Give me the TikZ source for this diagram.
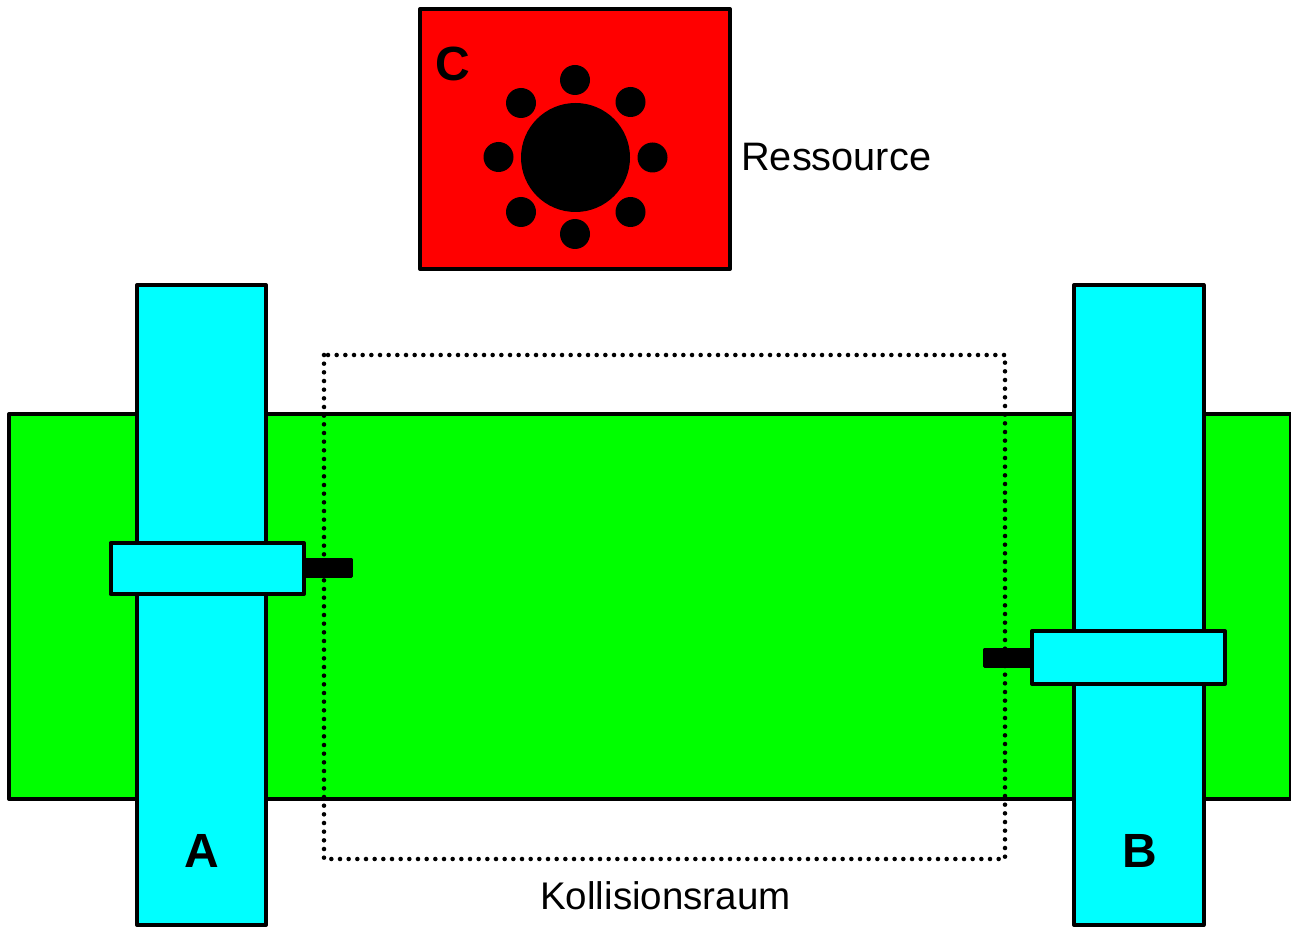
\documentclass[tikz,border=0pt]{standalone}
\usepackage{fontspec}
\setmainfont{Liberation Sans}
\definecolor{cgreen}{RGB}{0,255,0}
\definecolor{ccyan}{RGB}{0,255,255}
\definecolor{cred}{RGB}{255,0,0}
\tikzset{
  shapebox/.style={draw=black,line width=3pt,line join=round},
  stub/.style={fill=black,draw=black,line width=2.4pt,line join=round},
  dot/.style={fill=black},
  dotbox/.style={draw=black,line width=3.4pt,line cap=round,dash pattern=on 0pt off 6.5pt},
  lbl/.style={inner sep=0pt,font=\fontsize{28.9pt}{32pt}\selectfont},
  big/.style={inner sep=0pt,font=\fontsize{36pt}{40pt}\selectfont\bfseries}
}
\begin{document}
\begin{tikzpicture}[x=0.75pt,y=-0.75pt]
\useasboundingbox (0,0) rectangle (1291,927);
\clip (0,0) rectangle (1291,927);
% resource
\draw[shapebox,fill=cred] (420,9) rectangle (730,269);
\fill[dot] (575.5,157.5) circle (54.5);
\foreach \p/\q in {575/80,521/103,630.5/102,498.5/157,652.5/157.5,521/212,630.5/212,575/234}
  \fill[dot] (\p,\q) circle (15);
\node[big,anchor=base] (c) at (453,81) {C};
\node[lbl,font=\fontsize{29.8pt}{32pt}\selectfont,anchor=base west] (res) at (741,171) {Ressource};
% track
\draw[shapebox,fill=cgreen] (9,414) rectangle (1291,799);
% collision space
\draw[dotbox] (324,355) rectangle (1005,859);
% bars
\draw[shapebox,fill=ccyan] (137,285) rectangle (266,925);
\draw[shapebox,fill=ccyan] (1074,285) rectangle (1203.5,925);
% stubs
\draw[stub] (304,560) rectangle (351.5,576.5);
\draw[stub] (984.5,650) rectangle (1032,666.5);
% sliders
\draw[shapebox,fill=ccyan] (110.5,543) rectangle (304,594);
\draw[shapebox,fill=ccyan] (1032,631) rectangle (1225,684);
% labels
\node[big,anchor=base] (a) at (202,867) {A};
\node[big,anchor=base] (b) at (1139.5,867) {B};
\node[lbl,anchor=base] (koll) at (665.5,909) {Kollisionsraum};
\end{tikzpicture}
\end{document}
